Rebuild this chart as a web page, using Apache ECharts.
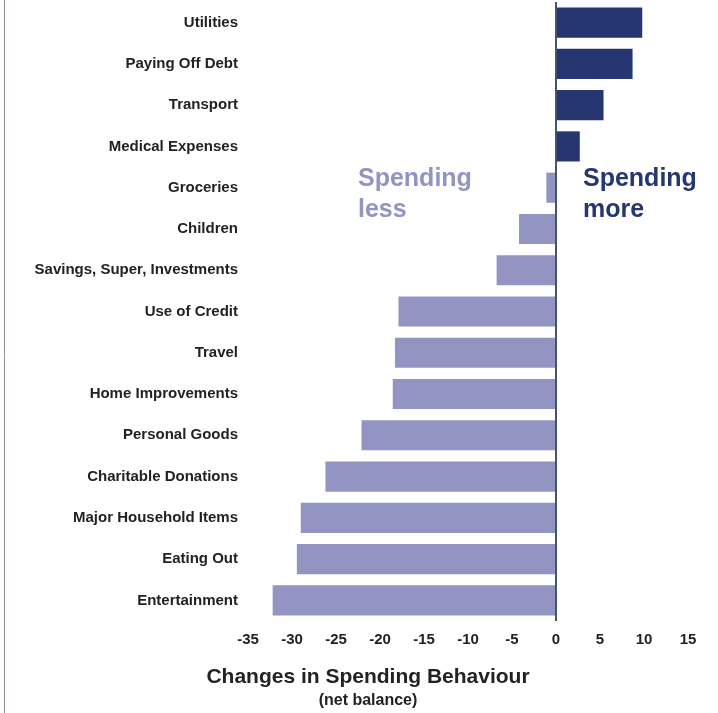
<!DOCTYPE html>
<html><head><meta charset="utf-8">
<script src="https://cdn.jsdelivr.net/npm/echarts@6/dist/echarts.min.js"></script>
<style>html,body{margin:0;padding:0;background:#fff}#c{width:718px;height:713px}</style>
</head><body><div id="c"></div>
<script>
const categories = ["Utilities","Paying Off Debt","Transport","Medical Expenses","Groceries","Children","Savings, Super, Investments","Use of Credit","Travel","Home Improvements","Personal Goods","Charitable Donations","Major Household Items","Eating Out","Entertainment"];
const netBalance = [9.8, 8.7, 5.4, 2.7, -1.1, -4.2, -6.75, -17.9, -18.3, -18.55, -22.1, -26.2, -29.0, -29.45, -32.2];
const xTicks = [-35, -30, -25, -20, -15, -10, -5, 0, 5, 10, 15];
const axisTitle = "Changes in Spending Behaviour";
const axisSubtitle = "(net balance)";
const lessLabel = "Spending\nless";
const moreLabel = "Spending\nmore";

const DARK = "#253670", LIGHT = "#9294c2";
const chart = echarts.init(document.getElementById('c'));
chart.setOption({
  animation: false,
  textStyle: {fontFamily: "Liberation Sans, Arial, sans-serif"},
  grid: {left: 248, right: 30, top: 2, bottom: 92},
  xAxis: {
    type: 'value', min: xTicks[0], max: xTicks[xTicks.length-1], interval: 5,
    splitLine: {show: false}, axisLine: {show: false}, axisTick: {show: false},
    axisLabel: {fontSize: 15, fontWeight: 'bold', color: '#222', margin: 11}
  },
  yAxis: {
    type: 'category', data: categories, inverse: true,
    axisLine: {show: false}, axisTick: {show: false},
    axisLabel: {fontSize: 15, fontWeight: 'bold', color: '#222', margin: 10}
  },
  series: [{
    type: 'bar', data: netBalance, barCategoryGap: '27%',
    itemStyle: {color: p => p.value >= 0 ? DARK : LIGHT},
    markLine: {
      silent: true, symbol: 'none', label: {show: false},
      lineStyle: {color: '#44546a', width: 2, type: 'solid'},
      data: [{xAxis: 0}]
    }
  }],
  graphic: [
    {type: 'line', shape: {x1: 4.5, y1: 0, x2: 4.5, y2: 713}, style: {stroke: '#8e8e9c', lineWidth: 1}},
    {type: 'text', left: 358, top: 164, style: {text: lessLabel, fill: LIGHT, font: 'bold 25px "Liberation Sans", Arial', lineHeight: 31}},
    {type: 'text', left: 583, top: 164, style: {text: moreLabel, fill: DARK, font: 'bold 25px "Liberation Sans", Arial', lineHeight: 31}},
    {type: 'text', x: 368, y: 667, style: {text: axisTitle, fill: '#222', font: 'bold 21px "Liberation Sans", Arial', textAlign: 'center'}},
    {type: 'text', x: 368, y: 693, style: {text: axisSubtitle, fill: '#222', font: 'bold 16px "Liberation Sans", Arial', textAlign: 'center'}}
  ]
});
</script></body></html>
